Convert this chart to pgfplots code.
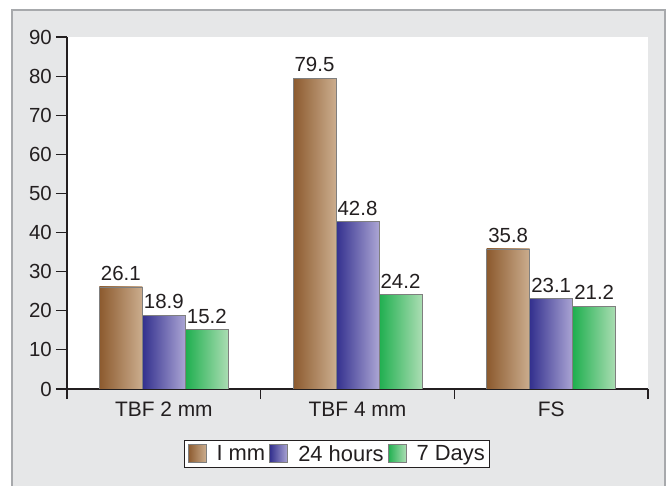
\documentclass[border=0pt]{standalone}
\usepackage{fontspec}
\setmainfont{Liberation Sans}
\usepackage{pgfplots}
\pgfplotsset{compat=1.18}
\definecolor{bg}{HTML}{E6E7E8}
\definecolor{bgborder}{HTML}{A7A9AC}
\definecolor{txt}{HTML}{231F20}
\definecolor{bardraw}{HTML}{7F7F7F}
\definecolor{brA}{HTML}{8C5A2E}
\definecolor{brB}{HTML}{CBAD8E}
\definecolor{blA}{HTML}{33308E}
\definecolor{blB}{HTML}{ABA5D4}
\definecolor{grA}{HTML}{1FAF4F}
\definecolor{grB}{HTML}{ABDDB3}
\pgfplotsset{
  myleg/.style={legend image code/.code={\path[##1,draw=bardraw] (0bp,-8bp) rectangle (18bp,10bp);}},
  sBr/.style={ybar, bar width=0.222, bar shift=-0.222, draw=bardraw, left color=brA, right color=brB, myleg,
    nodes near coords, every node near coord/.append style={xshift=-43bp}},
  sBl/.style={ybar, bar width=0.222, bar shift=0, draw=bardraw, left color=blA, right color=blB, myleg,
    nodes near coords},
  sGr/.style={ybar, bar width=0.222, bar shift=0.222, draw=bardraw, left color=grA, right color=grB, myleg,
    nodes near coords, every node near coord/.append style={xshift=43bp}},
}
\begin{document}
\begin{tikzpicture}
\useasboundingbox (0,0) rectangle (668bp,486bp);
\path[fill=bg, draw=bgborder, line width=1.2bp] (12bp,-5bp) rectangle (665bp,476bp);
\begin{axis}[
  at={(67bp,97bp)}, anchor=south west,
  width=581bp, height=352bp, scale only axis,
  xmin=-0.5, xmax=2.5, ymin=0, ymax=90,
  axis x line*=bottom, axis y line*=left,
  axis line style={draw=txt, line width=1.1bp},
  axis background/.style={fill=white},
  ytick={0,10,...,90},
  xtick={0,1,2}, xticklabels={TBF 2 mm, TBF 4 mm, FS},
  minor xtick={-0.5,0.5,1.5,2.5},
  major x tick style={draw=none},
  minor x tick style={draw=txt, line width=1.1bp},
  major y tick style={draw=txt, line width=1.1bp},
  minor tick length=10bp, major tick length=11bp,
  tick align=outside,
  /pgf/number format/assume math mode=true,
  ticklabel style={font=\fontsize{20.5}{24}\selectfont, text=txt},
  yticklabel style={inner sep=4bp},
  xticklabel style={inner sep=2bp, font=\fontsize{21}{24}\selectfont},
  every node near coord/.append style={font=\fontsize{20.5}{24}\selectfont, text=txt, inner sep=2bp, yshift=4bp},
  legend style={at={(0.465,-0.185)}, anchor=center, legend columns=3,
    draw=txt, line width=1bp, fill=white, font=\fontsize{22}{24}\selectfont, text=txt,
    /tikz/every even column/.append style={column sep=2bp},
    /tikz/every odd column/.append style={column sep=8bp},
    inner sep=3bp},
]
\addplot[sBr] coordinates {(0,26.1)};
\addplot[sBl] coordinates {(0,18.9)};
\addplot[sGr] coordinates {(0,15.2)};
\addplot[sBr, forget plot] coordinates {(1,79.5)};
\addplot[sBl, forget plot] coordinates {(1,42.8)};
\addplot[sGr, forget plot] coordinates {(1,24.2)};
\addplot[sBr, forget plot] coordinates {(2,35.8)};
\addplot[sBl, forget plot] coordinates {(2,23.1)};
\addplot[sGr, forget plot] coordinates {(2,21.2)};
\legend{I mm, 24 hours, 7 Days}
\end{axis}
\end{tikzpicture}
\end{document}
